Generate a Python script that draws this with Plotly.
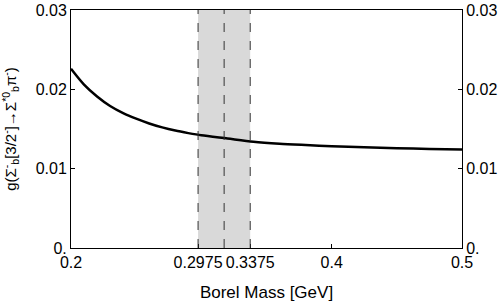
import plotly.graph_objects as go

borel_mass = [0.2, 0.21, 0.22, 0.23, 0.24, 0.25, 0.26, 0.27, 0.28, 0.29, 0.30, 0.32, 0.34,
              0.36, 0.38, 0.40, 0.425, 0.45, 0.475, 0.5]
coupling = [0.0226, 0.0206, 0.0191, 0.0179, 0.0170, 0.0163, 0.0157, 0.0152, 0.0148, 0.01448,
            0.0142, 0.0138, 0.0134, 0.01315, 0.01298, 0.01283, 0.0127, 0.01258, 0.01249, 0.01241]

window = [0.2975, 0.3375]
window_mid = [0.3175]
x_ticks = [0.2, 0.2975, 0.3375, 0.4, 0.5]
x_tick_labels = ["0.2", "0.2975", "0.3375", "0.4", "0.5"]
y_ticks = [0, 0.01, 0.02, 0.03]
y_tick_labels = ["0.", "0.01", "0.02", "0.03"]

font = "Liberation Sans, Arial, sans-serif"

fig = go.Figure()
fig.add_vrect(x0=window[0], x1=window[1], fillcolor="#d9d9d9", line_width=0, layer="below")
for xv in [window[0], window_mid[0], window[1]]:
    fig.add_shape(type="line", x0=xv, x1=xv, y0=0, y1=1, yref="paper", xref="x",
                  line=dict(color="#333333", width=1, dash="dash"))
fig.add_trace(go.Scatter(x=borel_mass, y=coupling, mode="lines",
                         line=dict(color="black", width=2.5, shape="spline", smoothing=0.8),
                         showlegend=False))
fig.add_trace(go.Scatter(x=[0.2], y=[0], yaxis="y2", mode="markers",
                         marker=dict(opacity=0), showlegend=False, hoverinfo="skip"))

axis_common = dict(showline=True, linecolor="black", linewidth=1, ticks="inside",
                   ticklen=4, tickcolor="black", showgrid=False, zeroline=False,
                   ticklabeloverflow="allow", automargin=False,
                   tickfont=dict(family=font, size=16, color="black"))

fig.update_layout(
    width=502, height=304, autosize=False,
    margin=dict(l=71, r=40, t=10, b=56, autoexpand=False),
    paper_bgcolor="white", plot_bgcolor="white",
    xaxis=dict(range=[0.2, 0.5], tickvals=x_ticks, ticktext=x_tick_labels, mirror=True,
               tickangle=0,
               title=dict(text="Borel Mass [GeV]", font=dict(family=font, size=17, color="black")),
               **axis_common),
    yaxis=dict(range=[0, 0.03], tickvals=y_ticks, ticktext=y_tick_labels,
               title=dict(text="g(Σ<sup>-</sup><sub>b</sub>[3/2<sup>-</sup>]→Σ<sup>*0</sup><sub>b</sub>π<sup>-</sup>)",
                          font=dict(family=font, size=15, color="black")),
               **axis_common),
    yaxis2=dict(range=[0, 0.03], tickvals=y_ticks, ticktext=y_tick_labels, overlaying="y",
                side="right", **axis_common),
)

fig.write_html("out.html", post_script="document.body.style.margin='0';",
               config={"displayModeBar": False})
